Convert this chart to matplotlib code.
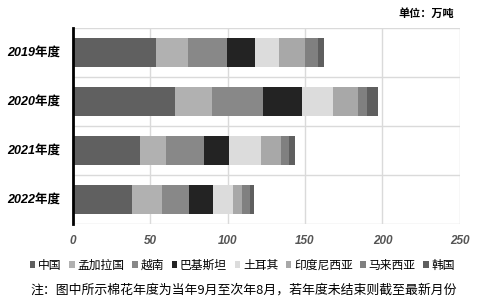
import matplotlib
matplotlib.use("Agg")
import matplotlib.pyplot as plt
import numpy as np

plt.rcParams['font.family'] = ['Noto Sans CJK SC', 'DejaVu Sans']

years = ["2019年度", "2020年度", "2021年度", "2022年度"]
countries = ["中国", "孟加拉国", "越南", "巴基斯坦", "土耳其", "印度尼西亚", "马来西亚", "韩国"]
china = [54.0, 66.3, 43.7, 38.5]
bangladesh = [20.5, 23.9, 16.6, 19.2]
vietnam = [25.4, 32.8, 24.3, 17.5]
pakistan = [18.1, 25.0, 16.6, 15.7]
turkey = [15.5, 19.9, 20.3, 12.5]
indonesia = [16.8, 16.1, 12.7, 6.0]
malaysia = [8.3, 6.3, 5.6, 4.8]
korea = [3.6, 6.5, 3.7, 2.6]
series = [china, bangladesh, vietnam, pakistan, turkey, indonesia, malaysia, korea]
colors = ["#606060", "#b1b1b1", "#888888", "#232323", "#dcdcdc", "#a8a8a8", "#808080", "#5f5f5f"]
xticks = [0, 50, 100, 150, 200, 250]

fig = plt.figure(figsize=(4.88, 3.02), dpi=100)
ax = fig.add_axes([0.1486, 0.2583, 0.794, 0.6490])

y = np.arange(len(years))
left = np.zeros(len(years))
for name, vals, c in zip(countries, series, colors):
    ax.barh(y, vals, left=left, height=0.61, color=c, label=name, zorder=3)
    left += np.array(vals)

ax.set_xlim(0, 250)
ax.set_ylim(len(years) - 0.5, -0.5)
ax.set_xticks(xticks)
ax.set_xticklabels([str(t) for t in xticks], fontsize=8.5, fontstyle='italic',
                   fontweight='bold', color='#555555', family=['Liberation Sans'])
ax.set_yticks(y)
ax.set_yticklabels(years, fontsize=9, fontweight='bold', fontstyle='italic',
                   family=['Liberation Sans Narrow', 'Liberation Sans', 'Noto Sans CJK SC'])
ax.set_yticks(np.arange(-0.5, len(years), 1.0), minor=True)
ax.grid(axis='x', color='#dadada', linewidth=1, zorder=0)
ax.grid(axis='y', which='minor', color='#dadada', linewidth=1, zorder=0)
ax.tick_params(axis='both', which='both', length=0)
ax.tick_params(axis='x', pad=8)
ax.tick_params(axis='y', pad=9)
for s in ['top', 'right', 'bottom']:
    ax.spines[s].set_visible(False)
ax.spines['left'].set_color('black')
ax.spines['left'].set_linewidth(2)
ax.spines['left'].set_zorder(5)

fig.text(0.93, 0.955, "单位：万吨", ha='right', va='center', fontsize=8,
         fontweight='bold', fontstyle='italic')

leg = fig.legend(*ax.get_legend_handles_labels(), loc='center', bbox_to_anchor=(0.497, 0.122),
                 ncol=8, frameon=False, fontsize=8.5, handlelength=0.45, handleheight=0.45,
                 handletextpad=0.25, columnspacing=0.65)
fig.text(0.5, 0.04, "注：图中所示棉花年度为当年9月至次年8月，若年度未结束则截至最新月份",
         ha='center', va='center', fontsize=9.3)

fig.savefig("out.png", dpi=100)
